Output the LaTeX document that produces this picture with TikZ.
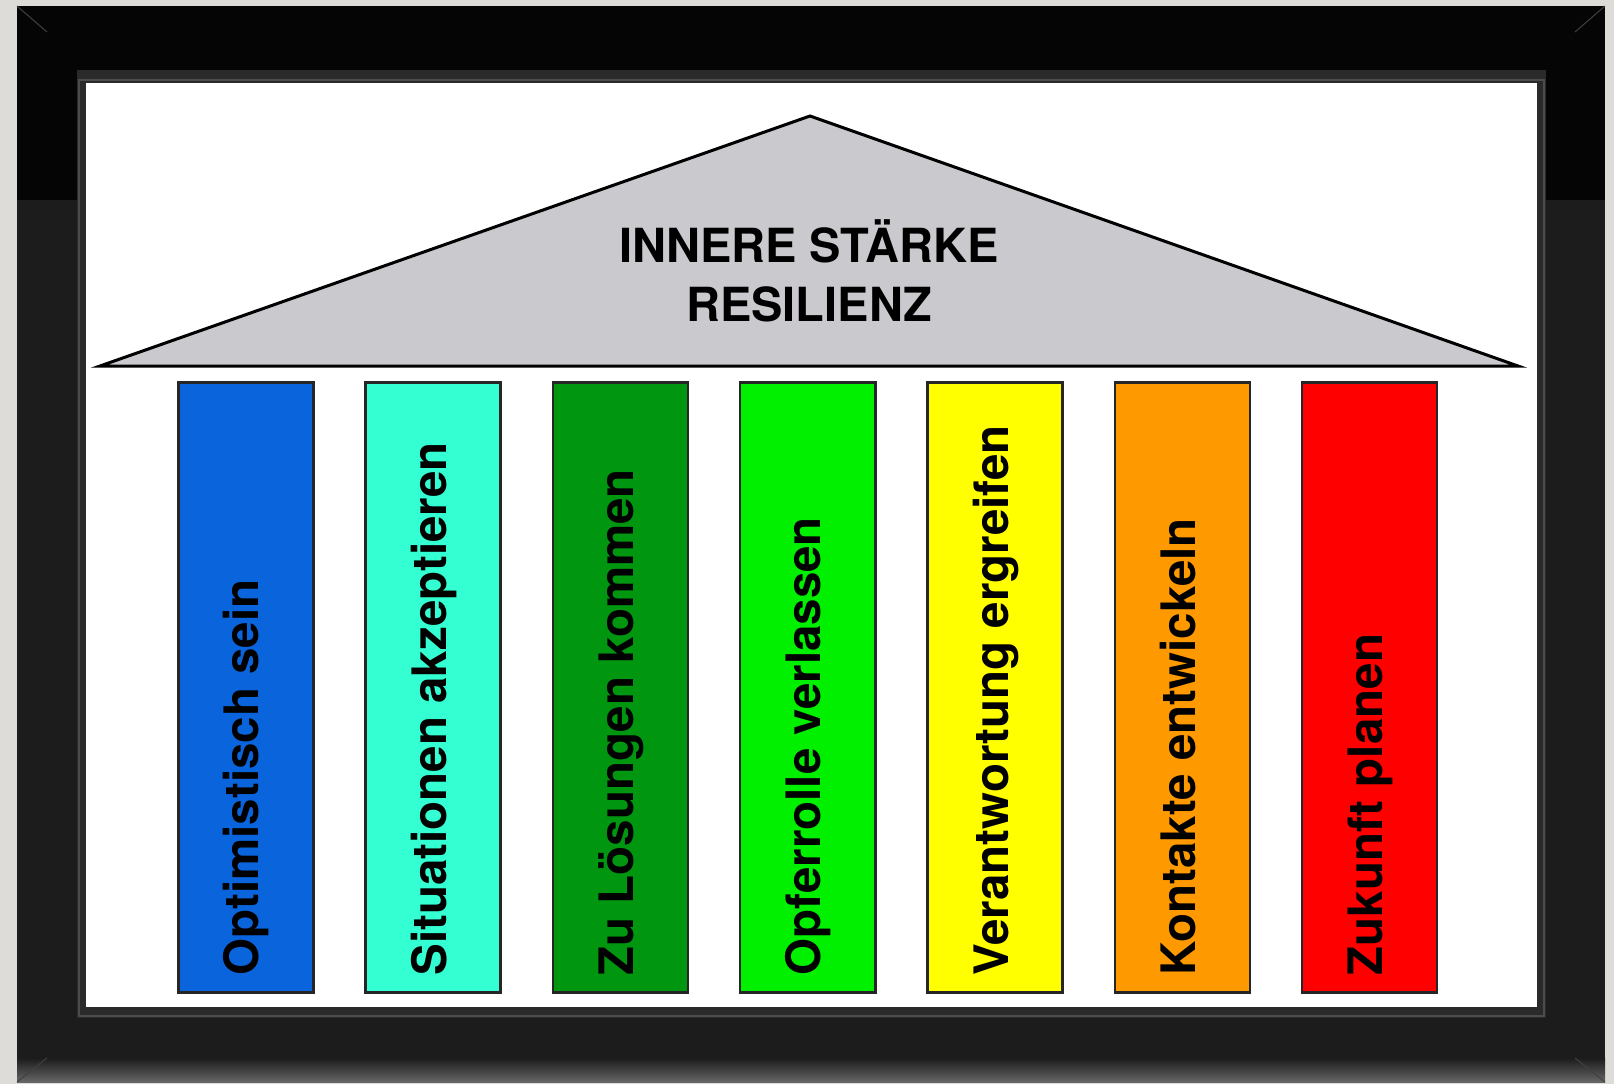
\documentclass[tikz,border=0pt]{standalone}
\usepackage{fontspec}
\setmainfont{TeX Gyre Heros}
\usetikzlibrary{positioning}

\definecolor{wallgray}{HTML}{DEDCD8}
\definecolor{frametop}{HTML}{050505}
\definecolor{framelow}{HTML}{1C1C1C}
\definecolor{bevelgray}{HTML}{2A2A2A}
\definecolor{roofgray}{HTML}{C9C9CE}
\definecolor{pblue}{HTML}{0A64DC}
\definecolor{pturq}{HTML}{33FFD2}
\definecolor{pdkgreen}{HTML}{00960F}
\definecolor{pgreen}{HTML}{00F000}
\definecolor{pyellow}{HTML}{FFFF00}
\definecolor{porange}{HTML}{FF9900}
\definecolor{pred}{HTML}{FF0000}

\begin{document}
\begin{tikzpicture}[x=1pt,y=-1pt,
  pillar/.style={draw=black!85, line width=2.5pt, inner sep=0pt,
    minimum width=135pt, minimum height=610pt, anchor=north west},
  pillartext/.style={rotate=90, anchor=base west, inner sep=0pt,
    font=\bfseries\fontsize{47.5}{56}\selectfont},
  roof/.style={fill=roofgray, draw=black, line width=3pt, line join=miter},
  title/.style={anchor=base, inner sep=0pt,
    font=\bfseries\fontsize{47}{56}\selectfont}]

% Wall and picture frame
\fill[wallgray] (0,0) rectangle (1614,1084);
\fill[frametop] (17,6) rectangle (1605,1082);
\fill[framelow] (17,200) rectangle (1605,1082);
\shade[top color=framelow, bottom color=black!60] (17,1058) rectangle (1605,1082);
\draw[black!75, line width=1pt] (17,6) -- (47,32) (1605,6) -- (1575,32)
  (17,1082) -- (47,1058) (1605,1082) -- (1575,1058);
\fill[bevelgray] (77,70) rectangle (1546,1018);
\draw[black!70, line width=1.5pt] (79,80) rectangle (1544,1016);
\fill[white] (86,83) rectangle (1537,1007);

% Roof
\draw[roof] (100,366) -- (810,116) -- (1518,366) -- cycle;
\node[title] (title) at (809,262) {INNERE STÄRKE};
\node[title] (subtitle) at (809,321) {RESILIENZ};

% Pillars
\foreach \c/\txt [count=\i from 0] in {pblue/Optimistisch sein,
    pturq/Situationen akzeptieren, pdkgreen/Zu Lösungen kommen,
    pgreen/Opferrolle verlassen, pyellow/Verantwortung ergreifen,
    porange/Kontakte entwickeln, pred/Zukunft planen}{
  \pgfmathsetmacro{\px}{177+187.33*\i}
  \node[pillar, fill=\c] (p\i) at (\px,381) {};
  \node[pillartext] (t\i) at ([xshift=13pt, yshift=18pt]p\i.south) {\txt};
}

\end{tikzpicture}
\end{document}
